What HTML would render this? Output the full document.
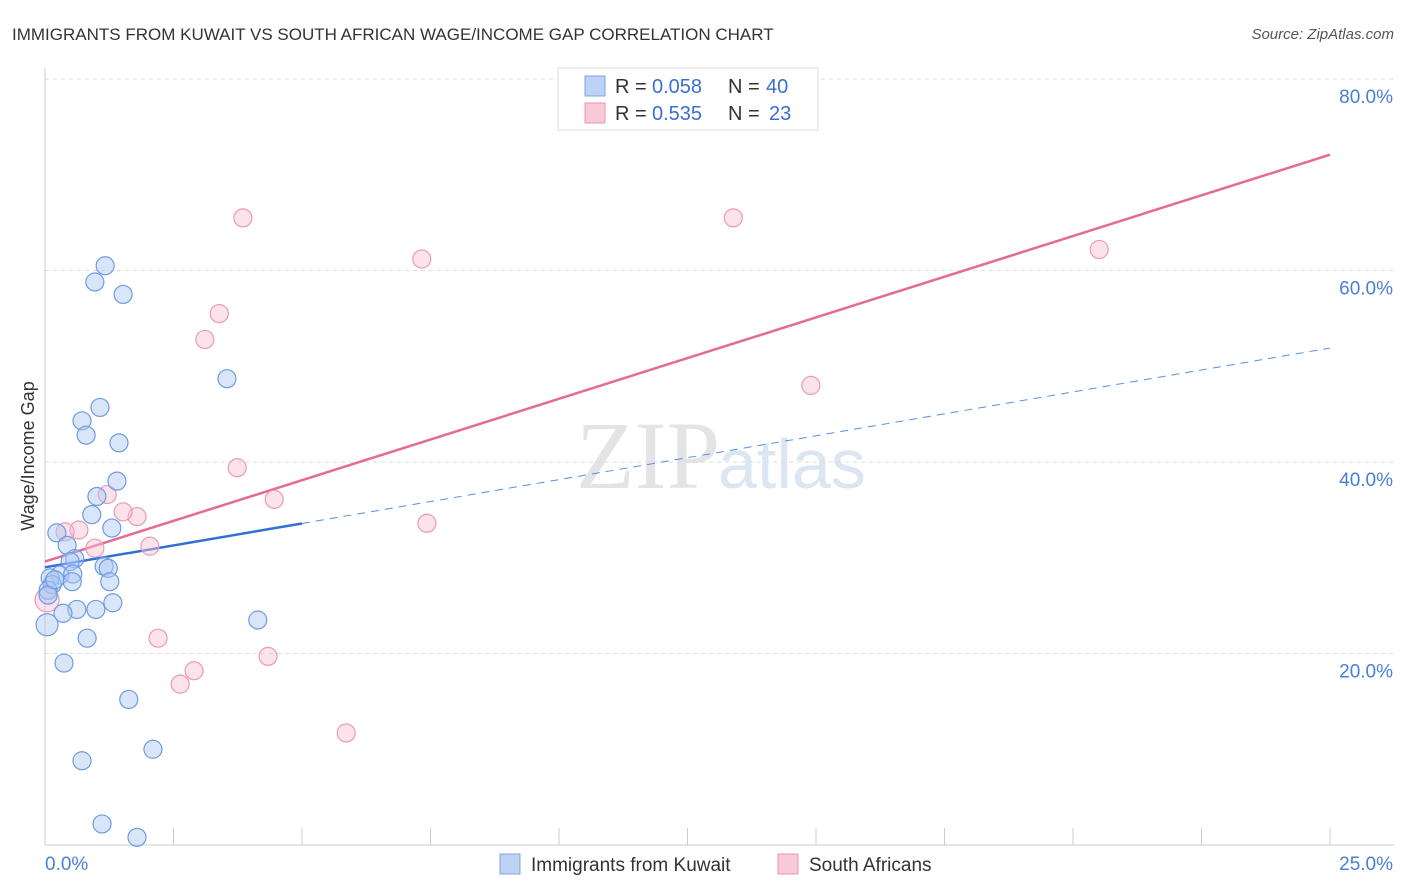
<!DOCTYPE html>
<html><head><meta charset="utf-8"><style>
body{margin:0;background:#fff;font-family:"Liberation Sans",sans-serif}
svg{display:block}
</style></head><body>
<svg id="c" width="1406" height="892">
<text x="12" y="40" font-size="17" fill="#333">IMMIGRANTS FROM KUWAIT VS SOUTH AFRICAN WAGE/INCOME GAP CORRELATION CHART</text>
<text x="1394" y="39" font-size="15" fill="#555" font-style="italic" text-anchor="end">Source: ZipAtlas.com</text>
<text x="720" y="488" font-size="96" fill="#e4e4e4" font-family="Liberation Serif,serif" text-anchor="end">ZIP</text>
<text x="718" y="488" font-size="70" fill="#dce6f3">atlas</text>
<g id="grid"></g><g id="axes"></g><g id="trends"></g><g id="pts"></g>
<text x="34" y="456" font-size="18" fill="#333" text-anchor="middle" transform="rotate(-90 34 456)">Wage/Income Gap</text>
<g font-size="20">
<rect x="558" y="68" width="260" height="62" fill="#fff" stroke="#ddd"/>
<rect x="585" y="76" width="20" height="20" fill="#bcd3f5" stroke="#7fa6e0"/>
<rect x="585" y="103" width="20" height="20" fill="#f9c9d8" stroke="#eb94b2"/>
<text x="615" y="93" fill="#333">R =</text><text x="652" y="93" fill="#3a6fd0">0.058</text>
<text x="728" y="93" fill="#333">N =</text><text x="766" y="93" fill="#3a6fd0">40</text>
<text x="615" y="120" fill="#333">R =</text><text x="652" y="120" fill="#3a6fd0">0.535</text>
<text x="728" y="120" fill="#333">N =</text><text x="769" y="120" fill="#3a6fd0">23</text>
</g>
<g>
<rect x="500" y="854" width="20" height="20" fill="#bcd3f5" stroke="#7fa6e0"/>
<text x="531" y="871" font-size="19" fill="#333">Immigrants from Kuwait</text>
<rect x="778" y="854" width="20" height="20" fill="#f9c9d8" stroke="#eb94b2"/>
<text x="809" y="871" font-size="19" fill="#333">South Africans</text>
</g>
</svg>
<script>
const blueX=[1.17,0.97,1.52,3.54,1.07,0.72,0.80,1.44,1.40,1.01,0.91,1.30,0.23,0.43,0.58,0.49,1.15,1.23,0.29,0.54,0.10,1.26,0.53,0.14,0.06,1.32,0.62,0.99,0.35,4.14,0.04,0.82,0.37,1.63,2.10,0.72,1.11,1.79,0.06,0.19];
const blueY=[60.5,58.8,57.5,48.7,45.7,44.3,42.8,42.0,38.0,36.4,34.5,33.1,32.6,31.3,29.9,29.6,29.1,28.9,28.2,28.3,27.9,27.5,27.5,27.2,26.6,25.3,24.6,24.6,24.2,23.5,23.0,21.6,19.0,15.2,10.0,8.8,2.2,0.8,26.1,27.7];
const pinkX=[3.85,13.39,7.33,20.51,3.39,3.11,14.90,3.74,1.21,4.46,7.43,1.79,1.52,0.66,0.39,0.97,2.04,2.20,4.34,2.90,2.63,5.86,0.04];
const pinkY=[65.5,65.5,61.2,62.2,55.5,52.8,48.0,39.4,36.6,36.1,33.6,34.3,34.8,32.9,32.7,31.0,31.2,21.6,19.7,18.2,16.8,11.7,25.6];
const blueTrend=[29.0,51.9];
const pinkTrend=[29.6,72.1];
const yTicks=[20,40,60,80];
const yTickLabels=["20.0%","40.0%","60.0%","80.0%"];
const xTicks=[0,2.5,5,7.5,10,12.5,15,17.5,20,22.5,25];
const NS="http://www.w3.org/2000/svg";
const X=v=>45+v/25*1285, Y=v=>845-v/20*191.5;
function mk(p,t,a){const e=document.createElementNS(NS,t);for(const k in a)e.setAttribute(k,a[k]);document.getElementById(p).appendChild(e);return e;}
yTicks.forEach((t,i)=>{
 const g=mk('grid','line',{x1:45,x2:1394,y1:Y(t),y2:Y(t),stroke:'#ddd','stroke-dasharray':'4,4'});
 
 
 const l=mk('grid','text',{x:1393,y:Y(t)+24,'font-size':19,fill:'#4a7fd6','text-anchor':'end'});
 l.textContent=yTickLabels[i];
 
 
});
mk('axes','line',{x1:45,x2:45,y1:68,y2:845,stroke:'#ccc'});
mk('axes','line',{x1:45,x2:1394,y1:845,y2:845,stroke:'#ccc'});
xTicks.forEach(t=>{const e=mk('axes','line',{x1:X(t),x2:X(t),y1:828,y2:845,stroke:'#ccc'});
 
 });
let a=mk('axes','text',{x:45,y:870,'font-size':19,fill:'#4a7fd6'});a.textContent='0.0%';


a=mk('axes','text',{x:1393,y:870,'font-size':19,fill:'#4a7fd6','text-anchor':'end'});a.textContent='25.0%';


const bAt=x=>blueTrend[0]+(blueTrend[1]-blueTrend[0])*x/25;
let t1=mk('trends','line',{x1:X(0),y1:Y(bAt(0)),x2:X(5),y2:Y(bAt(5)),stroke:'#2f6fd6','stroke-width':2.5});


let t2=mk('trends','line',{x1:X(5),y1:Y(bAt(5)),x2:X(25),y2:Y(bAt(25)),stroke:'#5a8fe0','stroke-width':1,'stroke-dasharray':'8,6'});


let t3=mk('trends','line',{x1:X(0),y1:Y(pinkTrend[0]),x2:X(25),y2:Y(pinkTrend[1]),stroke:'#e56b97','stroke-width':2.5});


pinkX.forEach((x,i)=>{const c=mk('pts','circle',{cx:X(x),cy:Y(pinkY[i]),r:i==22?12:9,fill:'rgba(248,190,210,0.45)',stroke:'#ea9ab7','stroke-width':1.2});
 
 });
blueX.forEach((x,i)=>{const c=mk('pts','circle',{cx:X(x),cy:Y(blueY[i]),r:i==30?11:9,fill:'rgba(170,200,245,0.45)',stroke:'#6f9be0','stroke-width':1.2});
 
 });
</script>
</body></html>
